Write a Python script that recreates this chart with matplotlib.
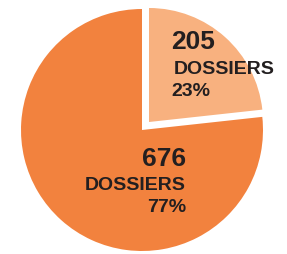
import matplotlib.pyplot as plt

counts = [205, 676]
shares = ["23%", "77%"]
colors = ["#F8B17F", "#F2823E"]

plt.rcParams['font.family'] = ['Liberation Sans', 'DejaVu Sans']

fig = plt.figure(figsize=(2.87, 2.55), dpi=100)
ax = fig.add_axes([0, 0, 1, 1])
wedges, _ = ax.pie(counts, colors=colors, startangle=90, counterclock=False,
                   center=(142, 124), radius=121,
                   wedgeprops={"linewidth": 0})
# the small slice is pulled out and drawn a little smaller
wedges[0].set_center((149, 132))
wedges[0].set_radius(114)
ax.set_xlim(0, 287)
ax.set_ylim(0, 255)
ax.set_aspect("equal")
ax.axis("off")

txt = "#231F20"
ax.text(171, 213, str(counts[0]), fontsize=19, fontweight="bold", color=txt, ha="left", va="center")
ax.text(174, 186, "DOSSIERS", fontsize=14, fontweight="bold", color=txt, ha="left", va="center")
ax.text(171, 164, shares[0], fontsize=14, fontweight="bold", color=txt, ha="left", va="center")

ax.text(186, 96, str(counts[1]), fontsize=19, fontweight="bold", color=txt, ha="right", va="center")
ax.text(186, 69, "DOSSIERS", fontsize=14, fontweight="bold", color=txt, ha="right", va="center")
ax.text(186, 47, shares[1], fontsize=14, fontweight="bold", color=txt, ha="right", va="center")

plt.savefig("out.png", dpi=100)
